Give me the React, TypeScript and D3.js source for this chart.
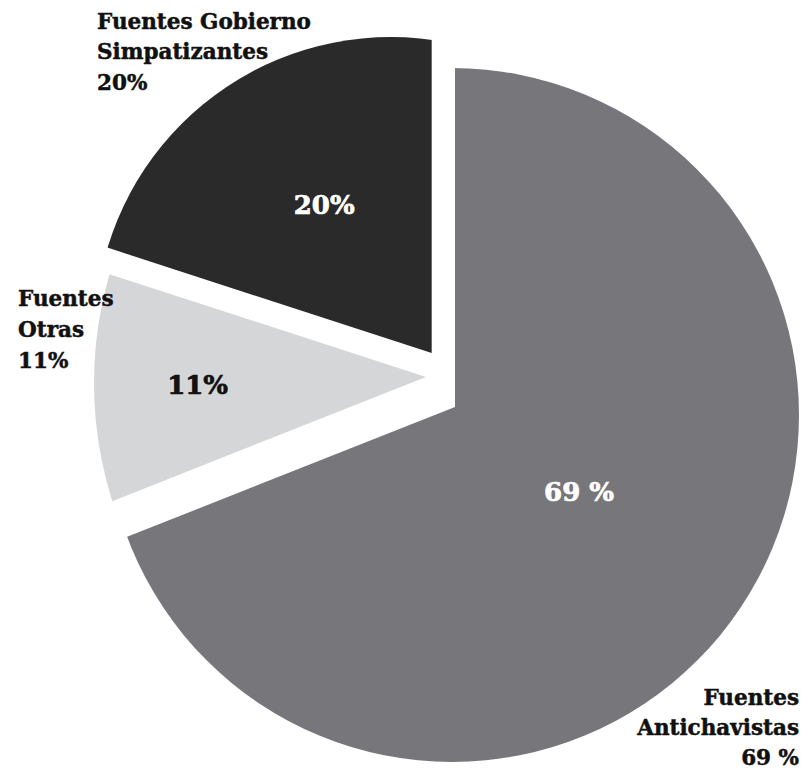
import React from 'react';
import * as d3 from 'd3';

// ---- data ----
const categories = ['Fuentes Antichavistas', 'Fuentes Otras', 'Fuentes Gobierno Simpatizantes'];
const values = [69, 11, 20];
const innerLabels = ['69 %', '11%', '20%'];
const outerLabelLines = [
  ['Fuentes', 'Antichavistas', '69 %'],
  ['Fuentes', 'Otras', '11%'],
  ['Fuentes Gobierno', 'Simpatizantes', '20%'],
];

// ---- styling / layout ----
const colors = ['#77777b', '#d5d6d8', '#2a2a2b'];
const innerTextColors = ['#ffffff', '#111111', '#ffffff'];
const W = 811;
const H = 771;
const FONT = '"DejaVu Serif", serif';

const sliceLayout = [
  { apex: [455, 407], disk: [452, 415], r: 347, labelR: 150 },
  { apex: [426, 377], disk: [484, 383], r: 390, labelR: 228.5 },
  { apex: [431.7, 353], disk: [391, 333], r: 296, labelR: 183 },
];

const outerLayout = [
  { x: 799, anchor: 'end', baselines: [705, 735, 765] },
  { x: 18, anchor: 'start', baselines: [306, 337, 368] },
  { x: 97, anchor: 'start', baselines: [28.5, 59.3, 90.3] },
];

export default function App() {
  const pie = d3.pie<number>().sort(null).value((d) => d);
  const arcs = pie(values);
  const wedge = d3.arc<d3.PieArcDatum<number>>().innerRadius(0).outerRadius(900);

  return (
    <svg
      width={W}
      height={H}
      viewBox={`0 0 ${W} ${H}`}
      style={{ position: 'absolute', left: 0, top: 0, background: '#ffffff' }}
    >
      <defs>
        {arcs.map((a, i) => {
          const L = sliceLayout[i];
          return (
            <clipPath id={`disk-${i}`} key={i} clipPathUnits="userSpaceOnUse">
              <circle cx={L.disk[0] - L.apex[0]} cy={L.disk[1] - L.apex[1]} r={L.r} />
            </clipPath>
          );
        })}
      </defs>
      {arcs.map((a, i) => {
        const L = sliceLayout[i];
        const labelArc = d3.arc<d3.PieArcDatum<number>>().innerRadius(L.labelR).outerRadius(L.labelR);
        const [lx, ly] = labelArc.centroid(a);
        return (
          <g key={categories[i]} transform={`translate(${L.apex[0]},${L.apex[1]})`}>
            <path d={wedge(a) || ''} fill={colors[i]} clipPath={`url(#disk-${i})`} />
            <text
              x={lx}
              y={ly}
              dy="0.36em"
              textAnchor="middle"
              fontFamily={FONT}
              fontWeight="bold"
              fontSize={26}
              fill={innerTextColors[i]}
              stroke={innerTextColors[i]}
              strokeWidth={0.7}
            >
              {innerLabels[i]}
            </text>
          </g>
        );
      })}
      {outerLayout.map((o, i) => (
        <text
          key={`outer-${i}`}
          textAnchor={o.anchor as any}
          fontFamily={FONT}
          fontWeight="bold"
          fontSize={21.5}
          fill="#111111"
          stroke="#111111"
          strokeWidth={0.5}
        >
          {outerLabelLines[i].map((line, j) => (
            <tspan key={j} x={o.x} y={o.baselines[j]}>
              {line}
            </tspan>
          ))}
        </text>
      ))}
    </svg>
  );
}
